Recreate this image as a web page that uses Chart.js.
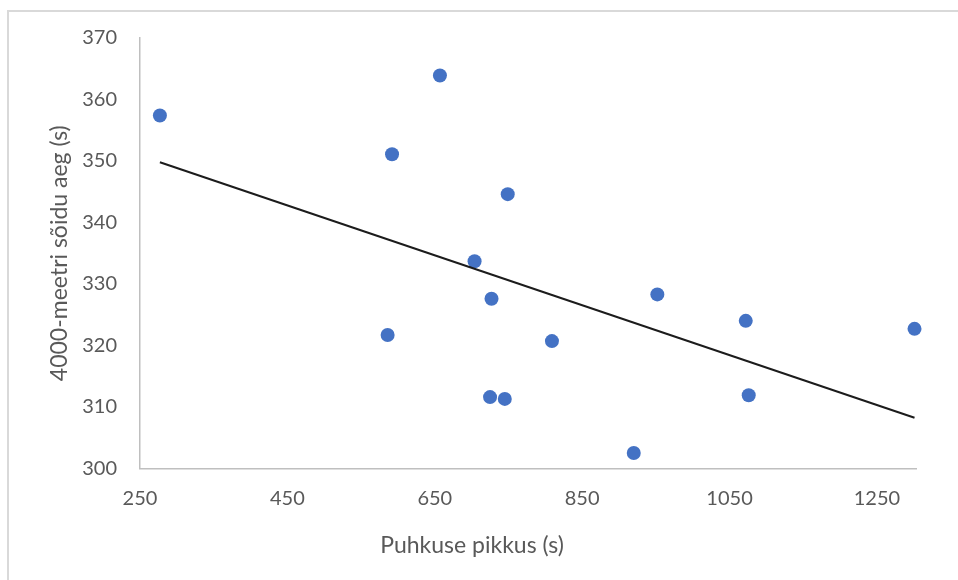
<!DOCTYPE html>
<html>
<head>
<meta charset="utf-8">
<script src="https://cdn.jsdelivr.net/npm/chart.js@4"></script>
<style>
  html, body { margin: 0; padding: 0; background: #fff; }
  #wrap { position: relative; width: 958px; height: 580px; }
  #frame { position: absolute; left: 7px; top: 10px; right: -10px; bottom: -10px;
           border-top: 2px solid #d9d9d9; border-left: 2px solid #d9d9d9; }
  #Chart { position: absolute; left: 0; top: 0; }
</style>
</head>
<body>
<div id="wrap">
  <div id="frame"></div>
  <canvas id="Chart" width="958" height="580"></canvas>
</div>
<script>
// puhkuse pikkus (s) vs 4000 m soiduaeg (s)
var restTimes = [277, 657, 592, 749, 704, 727, 952, 1072, 1301, 586, 809, 725, 745, 1076, 920];
var raceTimes = [357.4, 363.9, 351.1, 344.6, 333.7, 327.6, 328.3, 324.0, 322.7, 321.7, 320.7, 311.6, 311.3, 311.9, 302.5];
var xTicks = [250, 450, 650, 850, 1050, 1250];
var yTicks = [300, 310, 320, 330, 340, 350, 360, 370];

var xTitle = "Puhkuse pikkus (s)";
var yTitle = "4000-meetri sõidu aeg (s)";

function makePoints() {
    var pts = [];
    for (var i = 0; i < restTimes.length; i++) {
        pts.push({x: restTimes[i], y: raceTimes[i]});
    }
    return pts;
}

// lineaarne trendijoon (vahimruutude meetod)
function trendLine() {
    var n = restTimes.length, sx = 0, sy = 0, sxx = 0, sxy = 0;
    for (var i = 0; i < n; i++) {
        sx += restTimes[i]; sy += raceTimes[i];
        sxx += restTimes[i] * restTimes[i]; sxy += restTimes[i] * raceTimes[i];
    }
    var b = (n * sxy - sx * sy) / (n * sxx - sx * sx);
    var a = (sy - b * sx) / n;
    var x0 = Math.min.apply(null, restTimes), x1 = Math.max.apply(null, restTimes);
    return [{x: x0, y: a + b * x0}, {x: x1, y: a + b * x1}];
}

var grey = "#595959";
var tickFont = {family: "Lato, 'Open Sans', sans-serif", size: 20};
var titleFont = {family: "Lato, 'Open Sans', sans-serif", size: 23, weight: "normal"};

new Chart("Chart", {
    type: "scatter",
    data: {
        datasets: [{
            data: makePoints(),
            backgroundColor: "#4472C4",
            borderWidth: 0,
            pointRadius: 7,
            clip: false,
            order: 2
        }, {
            type: "line",
            data: trendLine(),
            borderColor: "#1c1c1c",
            borderWidth: 2,
            pointRadius: 0,
            fill: false,
            clip: false,
            order: 1
        }]
    },
    options: {
        responsive: false,
        animation: false,
        layout: {padding: {left: 0, right: 14, top: 38, bottom: 0}},
        plugins: {
            legend: {display: false},
            tooltip: {enabled: false},
            title: {
                display: true,
                position: "bottom",
                text: xTitle,
                color: grey,
                font: titleFont,
                padding: {top: 0, bottom: 21}
            }
        },
        scales: {
            x: {
                type: "linear",
                min: 250,
                max: 1303,
                afterBuildTicks: function (s) {
                    s.ticks = xTicks.map(function (v) { return {value: v}; });
                },
                afterFit: function (s) { s.height = 63; },
                grid: {display: false},
                border: {display: true, color: "#bfbfbf", width: 1.5},
                ticks: {
                    color: grey, font: tickFont, padding: 10, maxRotation: 0,
                    callback: function (v) { return String(v); }
                }
            },
            y: {
                type: "linear",
                min: 300,
                max: 370,
                afterBuildTicks: function (s) {
                    s.ticks = yTicks.map(function (v) { return {value: v}; });
                },
                afterFit: function (s) { s.width = 140; },
                grid: {display: false},
                border: {display: true, color: "#bfbfbf", width: 1.5},
                ticks: {
                    color: grey, font: tickFont, padding: 15,
                    callback: function (v) { return String(v); }
                },
                title: {
                    display: true,
                    text: yTitle,
                    color: grey,
                    font: titleFont,
                    padding: {top: 46, bottom: 0}
                }
            },
            y2: {
                position: "right",
                display: true,
                afterFit: function (s) { s.width = 28; },
                grid: {display: false},
                border: {display: false},
                ticks: {display: false}
            }
        }
    }
});
</script>
</body>
</html>
